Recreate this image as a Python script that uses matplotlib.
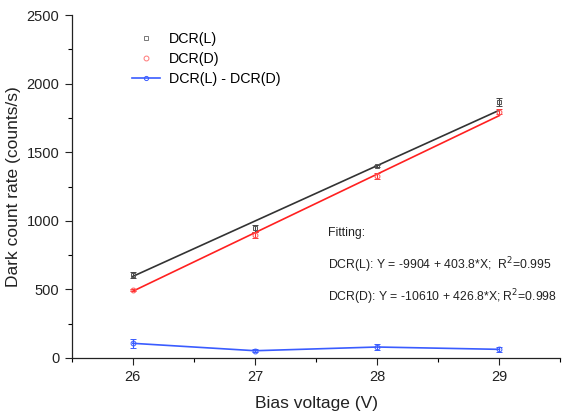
import matplotlib
matplotlib.use("Agg")
import matplotlib.pyplot as plt
import numpy as np
from matplotlib.ticker import MultipleLocator
from matplotlib.lines import Line2D

plt.rcParams['font.family'] = ['Liberation Sans', 'DejaVu Sans']

bias = [26, 27, 28, 29]
dcr_l = [608, 945, 1399, 1866]
dcr_l_err = [22, 28, 10, 32]
dcr_d = [496, 896, 1330, 1795]
dcr_d_err = [10, 22, 22, 18]
diff = [107, 53, 80, 63]
diff_err = [35, 10, 25, 20]

fit_l = (-9904, 403.8)
fit_d = (-10610, 426.8)

c_l = '#333333'
c_d = '#ff2020'
c_diff = '#3a5cff'

fig = plt.figure(figsize=(5.65, 4.17), dpi=100)
ax = fig.add_axes([0.127, 0.1415, 0.865, 0.8225])

x = np.array(bias, dtype=float)
ax.plot(x, fit_l[0] + fit_l[1] * x, color=c_l, lw=1.2, zorder=2)
ax.plot(x, fit_d[0] + fit_d[1] * x, color=c_d, lw=1.2, zorder=2)

ax.errorbar(bias, dcr_l, yerr=dcr_l_err, fmt='s', ms=3.5, mfc='none', mec='#555555',
            mew=0.7, ecolor='#444444', elinewidth=0.8, capsize=2.5, capthick=0.8, zorder=3)
ax.errorbar(bias, dcr_d, yerr=dcr_d_err, fmt='o', ms=3.5, mfc='none', mec='#ff5555',
            mew=0.7, ecolor='#ff3333', elinewidth=0.8, capsize=2.5, capthick=0.8, zorder=3)
ax.errorbar(bias, diff, yerr=diff_err, fmt='-o', ms=3.5, mfc='none', mec=c_diff,
            color=c_diff, lw=1.2, mew=0.7, ecolor=c_diff, elinewidth=0.8,
            capsize=2.5, capthick=0.8, zorder=3)

handles = [
    Line2D([], [], ls='none', marker='s', ms=3.5, mfc='none', mec='#777777', mew=0.7),
    Line2D([], [], ls='none', marker='o', ms=3.5, mfc='none', mec='#ff7777', mew=0.7),
    Line2D([], [], ls='-', color=c_diff, lw=1.2, marker='o', ms=3, mfc='none', mec=c_diff, mew=0.7),
]
labels = ['DCR(L)', 'DCR(D)', 'DCR(L) - DCR(D)']

ax.set_xlim(25.5, 29.5)
ax.set_ylim(0, 2500)
ax.xaxis.set_major_locator(MultipleLocator(1))
ax.xaxis.set_minor_locator(MultipleLocator(0.5))
ax.yaxis.set_major_locator(MultipleLocator(500))
ax.yaxis.set_minor_locator(MultipleLocator(250))
ax.tick_params(which='major', length=5, width=0.8, labelsize=10.5, colors='#222222', pad=4)
ax.tick_params(which='minor', length=3, width=0.8)
for s in ['top', 'right']:
    ax.spines[s].set_visible(False)
for s in ['left', 'bottom']:
    ax.spines[s].set_linewidth(0.9)
    ax.spines[s].set_color('#222222')

ax.set_xlabel('Bias voltage (V)', fontsize=12.5, color='#222222', labelpad=8)
ax.set_ylabel('Dark count rate (counts/s)', fontsize=12.5, color='#222222', labelpad=4)

leg = ax.legend(handles, labels, loc='upper left', bbox_to_anchor=(0.108, 0.972),
                frameon=False, fontsize=10.3, handlelength=2.0, handletextpad=0.6,
                labelspacing=0.42, borderpad=0)

tx = 0.524
fs = 8.8
ax.text(tx, 0.364, 'Fitting:', transform=ax.transAxes, fontsize=fs, color='#222222', va='center')
ax.text(tx, 0.271, 'DCR(L): Y = -9904 + 403.8*X;  R$^2$=0.995', transform=ax.transAxes,
        fontsize=fs, color='#222222', va='center')
ax.text(tx, 0.178, 'DCR(D): Y = -10610 + 426.8*X; R$^2$=0.998', transform=ax.transAxes,
        fontsize=fs, color='#222222', va='center')

fig.savefig('out.png', dpi=100)
